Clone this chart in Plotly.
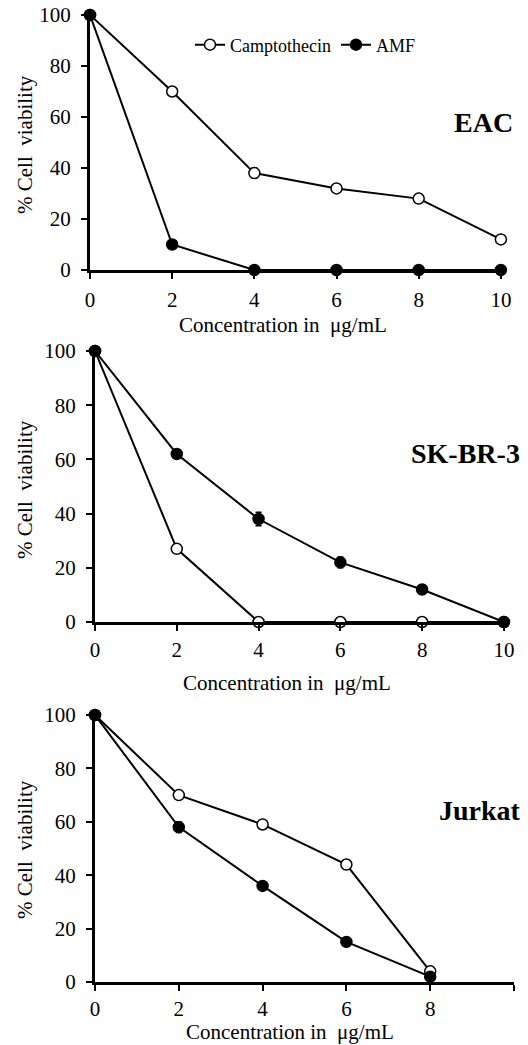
import plotly.graph_objects as go

W, H = 528, 1045

# ---- data ----
conc = [0, 2, 4, 6, 8, 10]
conc_jurkat = [0, 2, 4, 6, 8]

eac_campto = [100, 70, 38, 32, 28, 12]
eac_campto_err = [0, 1.5, 2, 0.8, 0.8, 0.8]
eac_amf = [100, 10, 0, 0, 0, 0]
eac_amf_err = [0, 1, 0, 0, 0, 0]

sk_campto = [100, 27, 0, 0, 0, 0]
sk_campto_err = [0, 0.8, 0, 0, 0, 0]
sk_amf = [100, 62, 38, 22, 12, 0]
sk_amf_err = [0, 1, 2.5, 2, 1, 0]

jk_campto = [100, 70, 59, 44, 4]
jk_campto_err = [0, 1, 1, 1, 1]
jk_amf = [100, 58, 36, 15, 2]
jk_amf_err = [0, 2, 1, 1.5, 1]

x_ticks = [0, 2, 4, 6, 8, 10]
x_ticktext = ["0", "2", "4", "6", "8", "10"]
x_ticktext_jurkat = ["0", "2", "4", "6", "8", ""]
y_ticks = [0, 20, 40, 60, 80, 100]

panel_names = ["EAC", "SK-BR-3", "Jurkat"]
series_names = ["Camptothecin", "AMF"]
x_title = "Concentration in  μg/mL"
y_title = "% Cell  viability"

FONT = "Liberation Serif, Times New Roman, serif"


def fx(px):
    return px / W


def fy(py):
    return 1 - py / H


fig = go.Figure()

panels = [
    dict(x=conc, c=eac_campto, ce=eac_campto_err, a=eac_amf, ae=eac_amf_err,
         xd=(90, 505), yd=(270, 15), xr=[0, 10.1], tt=x_ticktext, so=3),
    dict(x=conc, c=sk_campto, ce=sk_campto_err, a=sk_amf, ae=sk_amf_err,
         xd=(95, 508), yd=(622, 351), xr=[0, 10.1], tt=x_ticktext, so=1),
    dict(x=conc_jurkat, c=jk_campto, ce=jk_campto_err, a=jk_amf, ae=jk_amf_err,
         xd=(95, 514), yd=(982, 715), xr=[0, 10], tt=x_ticktext_jurkat, so=0),
]

for i, p in enumerate(panels):
    xa = "x" if i == 0 else f"x{i+1}"
    ya = "y" if i == 0 else f"y{i+1}"
    fig.add_trace(go.Scatter(
        x=p["x"], y=p["c"], mode="lines+markers", name=series_names[0],
        showlegend=(i == 0), xaxis=xa, yaxis=ya, cliponaxis=False,
        line=dict(color="black", width=2),
        marker=dict(symbol="circle", size=11, color="white",
                    line=dict(color="black", width=1.5)),
        error_y=dict(type="data", array=p["ce"], color="black",
                     thickness=1.5, width=3),
    ))
    fig.add_trace(go.Scatter(
        x=p["x"], y=p["a"], mode="lines+markers", name=series_names[1],
        showlegend=(i == 0), xaxis=xa, yaxis=ya, cliponaxis=False,
        line=dict(color="black", width=2),
        marker=dict(symbol="circle", size=11, color="black",
                    line=dict(color="black", width=1.5)),
        error_y=dict(type="data", array=p["ae"], color="black",
                     thickness=1.5, width=3),
    ))
    sfx = "" if i == 0 else str(i + 1)
    fig.layout["xaxis" + sfx] = dict(
        domain=[fx(p["xd"][0]), fx(p["xd"][1])], range=p["xr"],
        anchor=ya, showgrid=False, zeroline=False, automargin=False,
        showline=True, linecolor="black", linewidth=3,
        ticks="outside", ticklen=6, tickwidth=2, tickcolor="black",
        tickvals=x_ticks, ticktext=p["tt"],
        tickfont=dict(family=FONT, size=21, color="black"),
        ticklabelstandoff=p["so"],
    )
    fig.layout["yaxis" + sfx] = dict(
        domain=[fy(p["yd"][0]), fy(p["yd"][1])], range=[0, 100],
        anchor=xa, showgrid=False, zeroline=False, automargin=False,
        showline=True, linecolor="black", linewidth=3,
        ticks="outside", ticklen=6, tickwidth=2, tickcolor="black",
        tickvals=y_ticks,
        tickfont=dict(family=FONT, size=21, color="black"),
        ticklabelstandoff=6,
    )

# axis titles & panel labels
xt_pos = [(325, "middle"), (683, "middle"), (1045, "bottom")]
yt_pos = [145, 490, 850]
lab_pos = [(515, 122), (522, 453), (523, 810)]
xcent = [(90 + 505) / 2, (95 + 508) / 2, (95 + 514) / 2]
for i in range(3):
    fig.add_annotation(x=fx(xcent[i] - 15), y=fy(xt_pos[i][0]), xref="paper", yref="paper",
                       text=x_title, showarrow=False, xanchor="center",
                       yanchor=xt_pos[i][1], borderpad=0,
                       font=dict(family=FONT, size=21, color="black"))
    fig.add_annotation(x=fx(25), y=fy(yt_pos[i]), xref="paper", yref="paper",
                       text=y_title, showarrow=False, textangle=-90,
                       xanchor="center", yanchor="middle",
                       font=dict(family=FONT, size=21, color="black"))
    fig.add_annotation(x=fx(lab_pos[i][0]), y=fy(lab_pos[i][1]), xref="paper", yref="paper",
                       text="<b>" + panel_names[i] + "</b>", showarrow=False,
                       xanchor="right", yanchor="middle",
                       font=dict(family=FONT, size=28, color="black"))

fig.update_layout(
    width=W, height=H,
    margin=dict(l=0, r=0, t=0, b=0, pad=0),
    paper_bgcolor="white", plot_bgcolor="white",
    font=dict(family=FONT, color="black"),
    showlegend=True,
    legend=dict(orientation="h", x=fx(190), y=fy(45), xanchor="left", yanchor="middle",
                font=dict(family=FONT, size=18, color="black"),
                bgcolor="rgba(0,0,0,0)", itemwidth=30, tracegroupgap=0),
)

fig.write_html("out.html")
